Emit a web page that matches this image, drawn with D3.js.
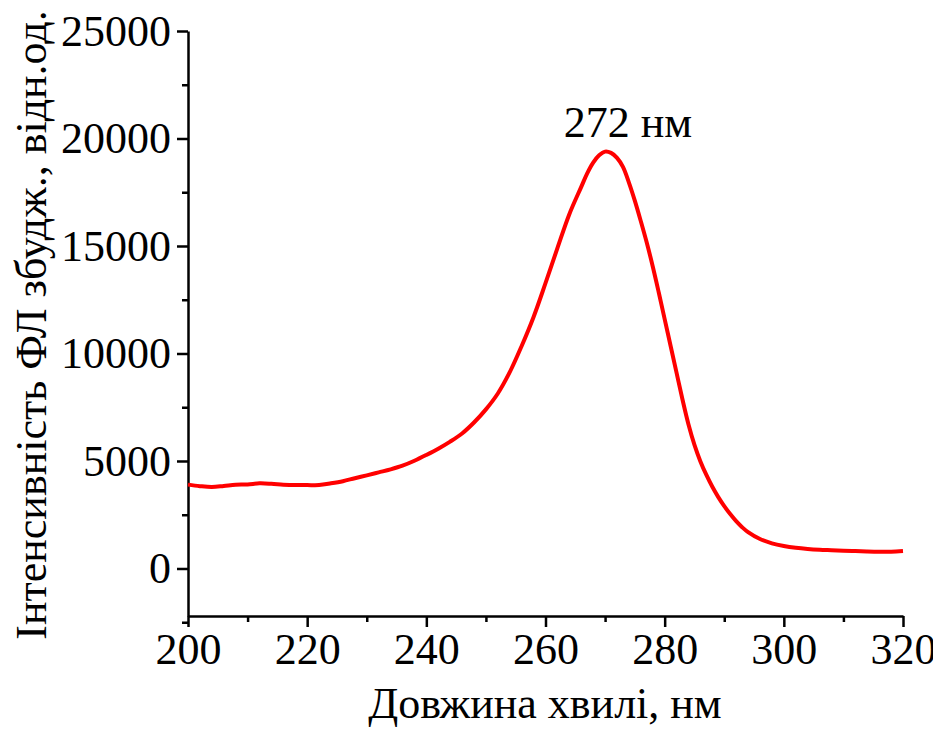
<!DOCTYPE html>
<html>
<head>
<meta charset="utf-8">
<script src="https://cdn.jsdelivr.net/npm/d3@7"></script>
<style>
  body { margin: 0; background: #fff; }
</style>
</head>
<body>
<div id="chart"></div>
<script>
"use strict";

const wavelength = [200, 202, 204, 206, 208, 210, 212, 214, 216, 218, 220, 222, 224, 226, 228, 230,
   232, 234, 236, 238, 240, 242, 244, 246, 248, 250, 252, 254, 256, 258, 260, 262, 264, 266, 267, 268,
   269, 270, 271, 272, 273, 274, 275, 276, 277, 278, 279, 280, 281, 282, 283, 284, 285, 286, 287, 288,
   289, 290, 291, 292, 293, 294, 296, 298, 300, 302, 304, 306, 308, 310, 312, 314, 316, 318, 320];
const intensity = [3900, 3830, 3790, 3840, 3900, 3910, 3960, 3940, 3900, 3880, 3880, 3880, 3960, 4060, 4200, 4330,
   4470, 4610, 4780, 5010, 5280, 5570, 5900, 6280, 6790, 7400, 8140, 9130, 10350, 11700, 13270, 14900, 16480, 17750, 18380, 18880,
   19220, 19390, 19330, 19100, 18680, 17950, 17100, 16150, 15150, 14050, 12850, 11600, 10350, 9100, 7850, 6700, 5750, 4980, 4350, 3800,
   3320, 2900, 2530, 2200, 1920, 1690, 1370, 1170, 1045, 960, 905, 870, 850, 830, 810, 790, 780, 780, 810];

const xMajor = [200, 220, 240, 260, 280, 300, 320];
const xMinor = [210, 230, 250, 270, 290, 310];
const yMajor = [0, 5000, 10000, 15000, 20000, 25000];
const yMinor = [-2500, 2500, 7500, 12500, 17500, 22500];

const peakLabel = "272 нм";
const xTitle = "Довжина хвилі, нм";
const yTitle = "Інтенсивність ФЛ збудж., відн.од.";

const fontStack = '"Liberation Serif", serif';
const width = 933, height = 729;
const margin = { left: 188, right: 903, top: 31, bottom: 616 };

const svg = d3.select("#chart").append("svg")
   .attr("width", width)
   .attr("height", height)
   .attr("font-family", fontStack);

const x = d3.scaleLinear().domain([200, 320]).range([margin.left, margin.right]);
const y = d3.scaleLinear().domain([-2210, 25000]).range([margin.bottom, margin.top]);

// axes
function styleAxis(g) {
   g.attr("font-family", fontStack).attr("font-size", 44);
   g.selectAll("path, line").attr("stroke", "#000").attr("stroke-width", 2.5);
   g.selectAll("text").attr("fill", "#000").attr("font-family", fontStack).attr("font-size", 44);
}

svg.append("g")
   .attr("transform", `translate(0,${margin.bottom})`)
   .call(d3.axisBottom(x).tickValues(xMajor).tickSize(11).tickSizeOuter(0).tickPadding(6).tickFormat(d3.format("d")))
   .call(styleAxis);

svg.append("g")
   .attr("transform", `translate(0,${margin.bottom})`)
   .call(d3.axisBottom(x).tickValues(xMinor).tickSize(6).tickSizeOuter(0).tickFormat(""))
   .call(g => g.select(".domain").remove())
   .call(styleAxis);

svg.append("g")
   .attr("transform", `translate(${margin.left},0)`)
   .call(d3.axisLeft(y).tickValues(yMajor).tickSize(11).tickSizeOuter(0).tickPadding(6).tickFormat(d3.format("d")))
   .call(styleAxis);

svg.append("g")
   .attr("transform", `translate(${margin.left},0)`)
   .call(d3.axisLeft(y).tickValues(yMinor).tickSize(6).tickSizeOuter(0).tickFormat(""))
   .call(g => g.select(".domain").remove())
   .call(styleAxis);

// spectrum
const data = wavelength.map((w, i) => ({ w: w, v: intensity[i] }));

const line = d3.line()
   .x(d => x(d.w))
   .y(d => y(d.v))
   .curve(d3.curveCatmullRom.alpha(0.5));

svg.append("path")
   .datum(data)
   .attr("fill", "none")
   .attr("stroke", "#ff0000")
   .attr("stroke-width", 4)
   .attr("stroke-linejoin", "round")
   .attr("d", line);

// peak label
svg.append("text")
   .attr("x", 628)
   .attr("y", 137)
   .attr("text-anchor", "middle")
   .attr("font-family", fontStack)
   .attr("font-size", 44)
   .text(peakLabel);

// titles
svg.append("text")
   .attr("x", 545)
   .attr("y", 718)
   .attr("text-anchor", "middle")
   .attr("font-family", fontStack)
   .attr("font-size", 44)
   .text(xTitle);

svg.append("text")
   .attr("transform", `translate(46,325) rotate(-90)`)
   .attr("text-anchor", "middle")
   .attr("font-family", fontStack)
   .attr("font-size", 44)
   .text(yTitle);
</script>
</body>
</html>
